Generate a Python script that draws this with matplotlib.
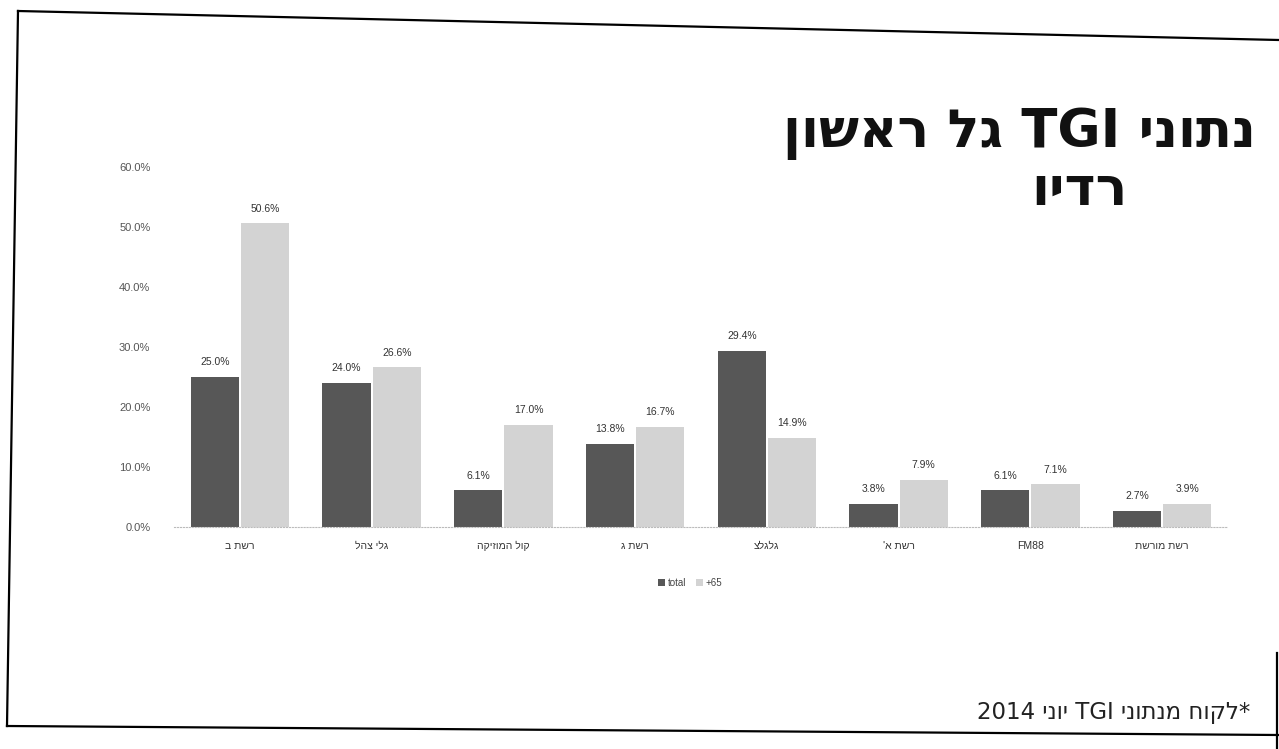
import re
import numpy as np
import matplotlib
matplotlib.use("Agg")
import matplotlib.pyplot as plt
from matplotlib.lines import Line2D

categories = ["רשת ב", "גלי צהל", "קול המוזיקה", "רשת ג", "גלגלצ", "רשת א'", "FM88", "רשת מורשת"]
total_vals = [25.0, 24.0, 6.1, 13.8, 29.4, 3.8, 6.1, 2.7]
age65_vals = [50.6, 26.6, 17.0, 16.7, 14.9, 7.9, 7.1, 3.9]
series_names = ["total", "65+"]
y_ticks = [0, 10, 20, 30, 40, 50, 60]
title_line1 = "נתוני TGI גל ראשון"
title_line2 = "רדיו"
footnote = "*לקוח מנתוני TGI יוני 2014"


def vis(s):
    """Convert logical-order Hebrew text to visual order for LTR rendering."""
    r = s[::-1]
    return re.sub(r'[A-Za-z0-9][A-Za-z0-9.%]*', lambda m: m.group(0)[::-1], r)


plt.rcParams['font.family'] = ['Liberation Sans', 'DejaVu Sans']

W, H = 1279, 749
fig = plt.figure(figsize=(W / 100, H / 100), dpi=100)
fig.patch.set_facecolor('white')

# axes in pixel coordinates
left, right, top, bottom = 174, 1228, 167, 527
ax = fig.add_axes([left / W, 1 - bottom / H, (right - left) / W, (bottom - top) / H])

x = np.arange(len(categories))
bw = 0.365
gap = 0.008
c_dark = '#575757'
c_light = '#d3d3d3'
b1 = ax.bar(x - bw / 2 - gap, total_vals, bw, color=c_dark, label=series_names[0])
b2 = ax.bar(x + bw / 2 + gap, age65_vals, bw, color=c_light, label=series_names[1])

for bars, vals in ((b1, total_vals), (b2, age65_vals)):
    for b, v in zip(bars, vals):
        ax.annotate(f"{v:.1f}%", (b.get_x() + b.get_width() / 2, v),
                    xytext=(0, 7), textcoords='offset points',
                    ha='center', va='bottom', fontsize=7.5, color='#333333')

ax.set_xlim(-0.5, len(categories) - 0.5)
ax.set_ylim(0, 60)
ax.set_yticks(y_ticks)
ax.set_yticklabels([f"{t:.1f}%" for t in y_ticks], fontsize=8, color='#555555')
ax.set_xticks(x)
ax.set_xticklabels([vis(c) for c in categories], fontsize=7.5, color='#333333')
ax.tick_params(axis='y', length=0, pad=17)
ax.tick_params(axis='x', length=0, pad=10)
for s in ('top', 'right', 'left'):
    ax.spines[s].set_visible(False)
ax.spines['bottom'].set_color('#bbbbbb')
ax.spines['bottom'].set_linestyle(':')
ax.spines['bottom'].set_linewidth(0.8)
ax.set_facecolor('none')

leg = fig.legend([b1, b2], [vis(n) for n in series_names], loc='center',
                 bbox_to_anchor=(690 / W, 1 - 583 / H), ncol=2, frameon=False,
                 fontsize=7, handlelength=0.7, handleheight=0.7, handletextpad=0.3,
                 columnspacing=1.0)
for t in leg.get_texts():
    t.set_color('#444444')

# title
fig.text(1256 / W, 1 - 134 / H, vis(title_line1), ha='right', va='center',
         fontsize=38, fontweight='bold', color='#111111', family='DejaVu Sans')
fig.text(1128 / W, 1 - 190 / H, vis(title_line2), ha='right', va='center',
         fontsize=38, fontweight='bold', color='#111111', family='DejaVu Sans')

# footnote
fig.text(1250 / W, 1 - 713 / H, vis(footnote), ha='right', va='center',
         fontsize=16.5, color='#222222', family='DejaVu Sans')

# scanned-page frame
def fline(xs, ys, lw=1.6):
    fig.add_artist(Line2D([v / W for v in xs], [1 - v / H for v in ys],
                          transform=fig.transFigure, color='black', lw=lw))

fline([18, 1279], [11, 40])
fline([18, 7], [11, 726])
fline([7, 1279], [726, 735])
fline([1277, 1277], [653, 749])

fig.savefig('out.png', dpi=100)
